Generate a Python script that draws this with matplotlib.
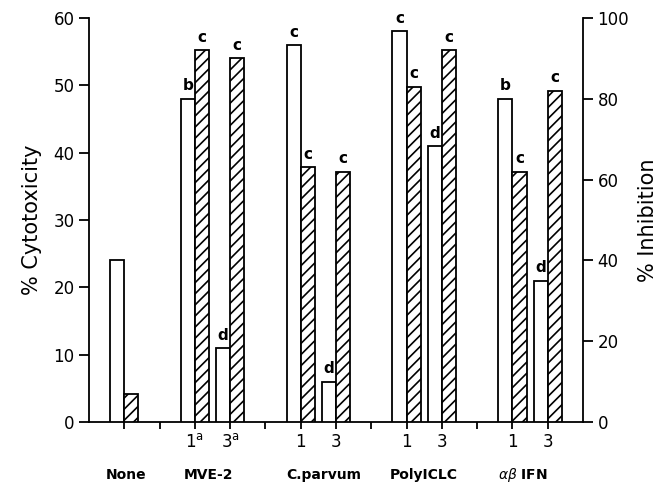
import matplotlib.pyplot as plt

groups = ["None", "MVE-2", "C.parvum", "PolyICLC", r"$\alpha\beta$ IFN"]
positions = [1, 3, 4, 6, 7, 9, 10, 12, 13]
dose_labels = ["", r"1$^{\mathrm{a}}$", r"3$^{\mathrm{a}}$", "1", "3", "1", "3", "1", "3"]
cytotoxicity = [24, 48, 11, 56, 6, 58, 41, 48, 21]
inhibition = [7, 92, 90, 63, 62, 83, 92, 62, 82]
cyto_letters = ["", "b", "d", "c", "d", "c", "d", "b", "d"]
inhib_letters = ["", "c", "c", "c", "c", "c", "c", "c", "c"]
group_centers = [1.05, 3.4, 6.65, 9.5, 12.3]
separators = [2, 5, 8, 11]

plt.rcParams['font.family'] = 'DejaVu Sans'
plt.rcParams['hatch.linewidth'] = 1.2

fig = plt.figure(figsize=(6.64, 4.87), dpi=100)
ax = fig.add_axes([0.134, 0.1335, 0.744, 0.8295])
ax2 = ax.twinx()

w = 0.4
ax.bar(positions, cytotoxicity, width=-w, align='edge', facecolor='white',
       edgecolor='black', linewidth=1.3, zorder=3)
ax2.bar(positions, inhibition, width=w, align='edge', facecolor='white',
        edgecolor='black', linewidth=1.3, hatch='///', zorder=3)

for x, v, t in zip(positions, cytotoxicity, cyto_letters):
    if t:
        ax.text(x - w / 2, v + 0.8, t, ha='center', va='bottom', fontsize=11, fontweight='bold')
for x, v, t in zip(positions, inhibition, inhib_letters):
    if t:
        ax2.text(x + w / 2, v + 1.3, t, ha='center', va='bottom', fontsize=11, fontweight='bold')

ax.set_xlim(0, 14)
ax.set_ylim(0, 60)
ax2.set_ylim(0, 100)
ax.set_yticks(range(0, 61, 10))
ax2.set_yticks(range(0, 101, 20))

ax.set_xticks(positions)
ax.set_xticklabels(dose_labels, fontsize=12)
ax.set_xticks(separators, minor=True)
ax.tick_params(axis='x', which='major', length=5, width=1.3, pad=3)
ax.tick_params(axis='x', which='minor', length=5, width=1.3)
ax.tick_params(axis='y', length=7, width=1.3, labelsize=12)
ax2.tick_params(axis='y', length=7, width=1.3, labelsize=12)

for a in (ax, ax2):
    a.spines['top'].set_visible(False)
    for s in ('left', 'right', 'bottom'):
        a.spines[s].set_linewidth(1.3)
ax.spines['right'].set_visible(False)
ax2.spines['left'].set_visible(False)
ax2.spines['bottom'].set_visible(False)

ax.set_ylabel("% Cytotoxicity", fontsize=15, labelpad=8)
ax2.set_ylabel("% Inhibition", fontsize=15, labelpad=6)

for x, g in zip(group_centers, groups):
    ax.text(x, -7.9, g, ha='center', va='center', fontsize=10, fontweight='bold')

fig.savefig("out.png", dpi=100)
